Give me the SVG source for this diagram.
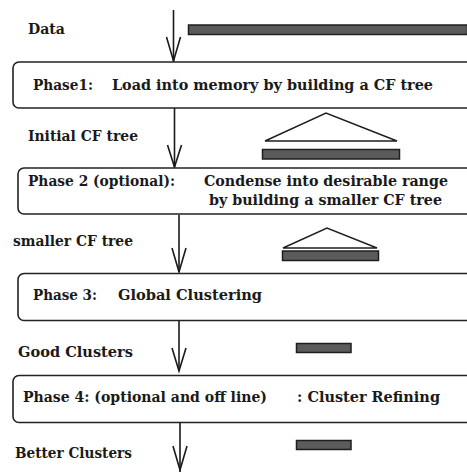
<svg xmlns="http://www.w3.org/2000/svg" width="467" height="472" viewBox="0 0 467 472">
  <defs>
    <style>
      .lbl { font-family: "DejaVu Serif", "Liberation Serif", serif; font-weight: bold; font-size: 15px; fill: #1a1a1a; }
      .box { fill: #ffffff; stroke: #222222; stroke-width: 1.6; }
      .bar { fill: #5b5b5b; stroke: #1e1e1e; stroke-width: 1.5; }
      .tri { fill: none; stroke: #1e1e1e; stroke-width: 1.4; stroke-linejoin: miter; }
      .flow { fill: none; stroke: #1a1a1a; stroke-width: 1.6; }
      .head { fill: none; stroke: #1a1a1a; stroke-width: 1.6; stroke-linejoin: miter; }
    </style>
  </defs>
  <rect width="467" height="472" fill="#ffffff"/>

  <!-- flow arrows between stages -->
  <g id="connectors">
    <line class="flow" x1="173.5" y1="10" x2="173.5" y2="61"/>
    <polyline class="head" points="166.5,37 173.5,61 180.5,37"/>
    <line class="flow" x1="174.5" y1="108" x2="174.5" y2="167"/>
    <polyline class="head" points="167.5,145 174.5,167 181.5,145"/>
    <line class="flow" x1="179" y1="215" x2="179" y2="272"/>
    <polyline class="head" points="172,248 179,272 186,248"/>
    <line class="flow" x1="179" y1="321" x2="179" y2="371"/>
    <polyline class="head" points="172,348 179,371 186,348"/>
    <line class="flow" x1="180" y1="423" x2="180" y2="472"/>
    <polyline class="head" points="173,446 180,470 187,446"/>
  </g>

  <!-- data -->
  <g id="data">
    <text class="lbl" x="28" y="34" textLength="37" lengthAdjust="spacingAndGlyphs">Data</text>
    <rect class="bar" x="188.5" y="25" width="279" height="9.5"/>
  </g>

  <!-- phase 1 -->
  <g id="phase1">
    <rect class="box" x="13" y="62" width="460" height="46" rx="6"/>
    <text class="lbl" x="33" y="90" textLength="60" lengthAdjust="spacingAndGlyphs">Phase1:</text>
    <text class="lbl" x="112" y="90" textLength="321" lengthAdjust="spacingAndGlyphs">Load into memory by building a CF tree</text>
  </g>

  <!-- initial CF tree -->
  <g id="initial-cf-tree">
    <text class="lbl" x="28" y="141" textLength="110" lengthAdjust="spacingAndGlyphs">Initial CF tree</text>
    <polygon class="tri" points="265,141 326,113 397,141"/>
    <rect class="bar" x="262.5" y="149.5" width="137" height="9.5"/>
  </g>

  <!-- phase 2 -->
  <g id="phase2">
    <rect class="box" x="18" y="168" width="455" height="46" rx="6"/>
    <text class="lbl" x="28" y="186" textLength="147" lengthAdjust="spacingAndGlyphs">Phase 2 (optional):</text>
    <text class="lbl" x="204" y="186" textLength="244" lengthAdjust="spacingAndGlyphs">Condense into desirable range</text>
    <text class="lbl" x="209" y="205" textLength="233" lengthAdjust="spacingAndGlyphs">by building a smaller CF tree</text>
  </g>

  <!-- smaller CF tree -->
  <g id="smaller-cf-tree">
    <text class="lbl" x="13" y="246" textLength="120" lengthAdjust="spacingAndGlyphs">smaller CF tree</text>
    <polygon class="tri" points="283,248 327,228 377,248"/>
    <rect class="bar" x="282.5" y="251" width="96" height="9.5"/>
  </g>

  <!-- phase 3 -->
  <g id="phase3">
    <rect class="box" x="18" y="273.5" width="455" height="47" rx="6"/>
    <text class="lbl" x="33" y="300" textLength="64" lengthAdjust="spacingAndGlyphs">Phase 3:</text>
    <text class="lbl" x="118" y="300" textLength="144" lengthAdjust="spacingAndGlyphs">Global Clustering</text>
  </g>

  <!-- good clusters -->
  <g id="good-clusters">
    <text class="lbl" x="18" y="357" textLength="115" lengthAdjust="spacingAndGlyphs">Good Clusters</text>
    <rect class="bar" x="296.5" y="343.5" width="54.5" height="9"/>
  </g>

  <!-- phase 4 -->
  <g id="phase4">
    <rect class="box" x="13" y="375.5" width="460" height="47" rx="6"/>
    <text class="lbl" x="23" y="402" textLength="244" lengthAdjust="spacingAndGlyphs">Phase 4: (optional and off line)</text>
    <text class="lbl" x="297" y="402" textLength="143" lengthAdjust="spacingAndGlyphs">: Cluster Refining</text>
  </g>

  <!-- better clusters -->
  <g id="better-clusters">
    <text class="lbl" x="15" y="458" textLength="117" lengthAdjust="spacingAndGlyphs">Better Clusters</text>
    <rect class="bar" x="296.5" y="440.5" width="54.5" height="9"/>
  </g>
</svg>
